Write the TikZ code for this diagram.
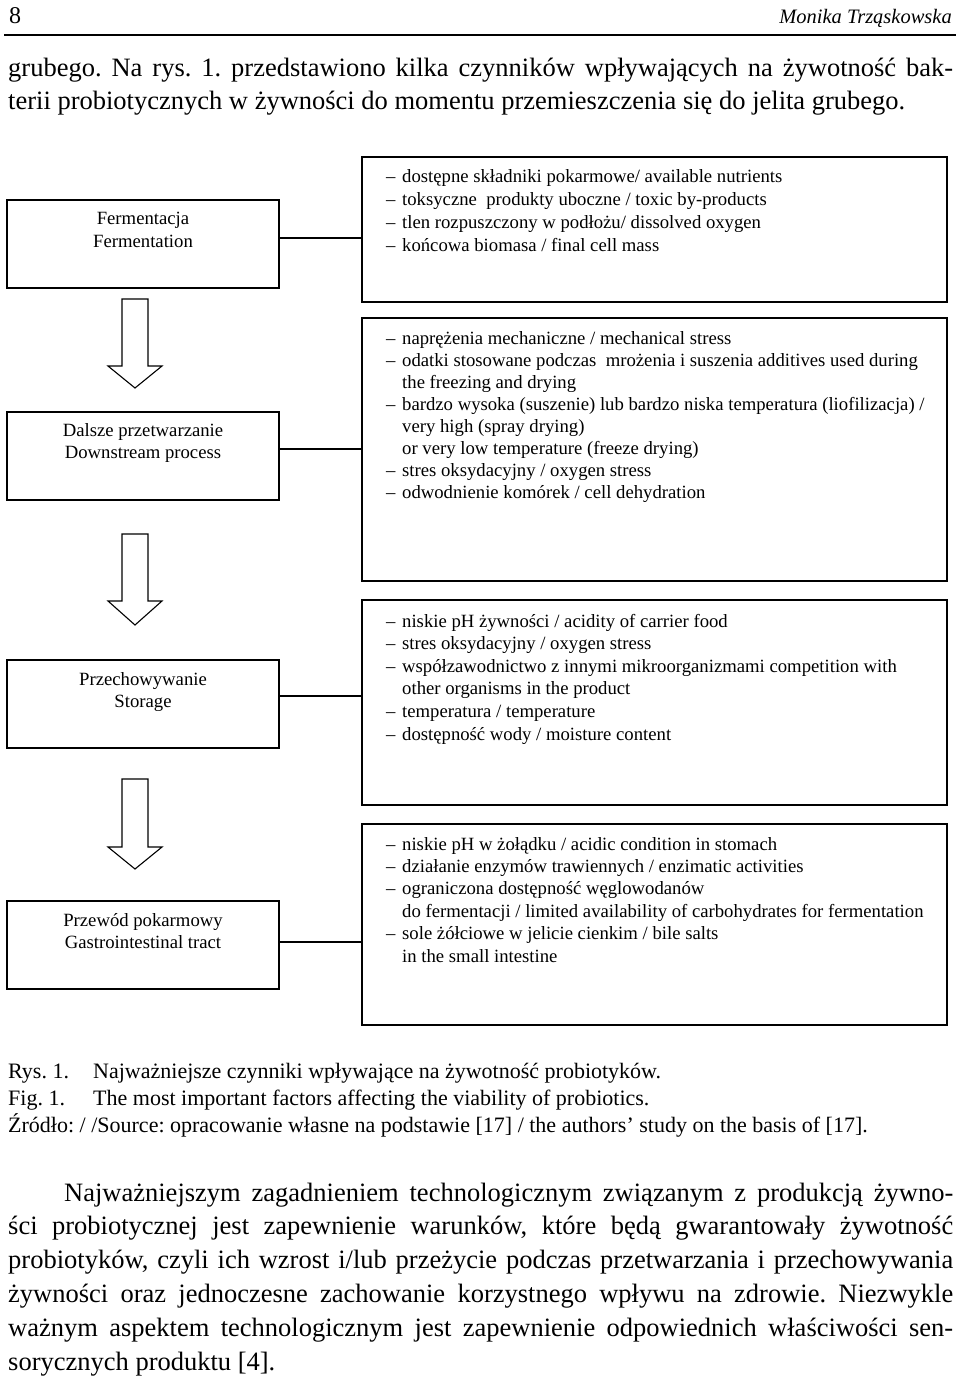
\documentclass[tikz,border=0pt]{standalone}
\usepackage{fontspec}
\setmainfont{Liberation Serif}
\frenchspacing
\newcommand\itm[1]{\makebox[16pt][l]{–}#1}
\newcommand\cnt[1]{\hspace*{16pt}#1}
\begin{document}
\begin{tikzpicture}[x=1pt,y=-1pt,
  lbox/.style={draw, line width=1.5pt, inner sep=0pt, outer sep=0pt, anchor=north west, minimum width=272pt, minimum height=88pt},
  rbox/.style={draw, line width=1.5pt, inner sep=0pt, outer sep=0pt, anchor=north west, minimum width=585pt},
  ltxt/.style={anchor=base, inner sep=0pt},
  rtxt/.style={anchor=base west, inner sep=0pt},
  link/.style={line width=1.5pt},
  barrow/.style={draw, line width=1.1pt, line join=miter},
  plain/.style={anchor=base west, inner sep=0pt}
]
\useasboundingbox (0,0) rectangle (960,1379);
\fill[white] (0,0) rectangle (960,1379);

% header
\node[plain, font=\fontsize{24}{28}\selectfont] (pg) at (9,23) {8};
\node[anchor=base east, inner sep=0pt, font=\fontsize{20.5}{25}\selectfont\itshape] (au) at (952,23) {Monika Trząskowska};
\draw[line width=2.6pt] (4,35) -- (956,35);

% top paragraph
\node[plain, font=\fontsize{26.5}{33}\selectfont] (p1) at (8,76) {\makebox[945pt][s]{grubego. Na rys. 1. przedstawiono kilka czynników wpływających na żywotność bak-}};
\node[plain, font=\fontsize{26.5}{33}\selectfont] (p2) at (8,109) {terii probiotycznych w żywności do momentu przemieszczenia się do jelita grubego.};

% left boxes
\node[lbox] (b1) at (7,200) {};
\node[lbox] (b2) at (7,412) {};
\node[lbox] (b3) at (7,660) {};
\node[lbox] (b4) at (7,901) {};

\node[ltxt] (l1) at (143,224) {\parbox[t]{260pt}{\centering\fontsize{18.7}{23}\selectfont Fermentacja\\Fermentation}};
\node[ltxt] (l2) at (143,436) {\parbox[t]{260pt}{\centering\fontsize{18.7}{22.5}\selectfont Dalsze przetwarzanie\\Downstream process}};
\node[ltxt] (l3) at (143,685) {\parbox[t]{260pt}{\centering\fontsize{18.7}{22.5}\selectfont Przechowywanie\\Storage}};
\node[ltxt] (l4) at (143,926) {\parbox[t]{260pt}{\centering\fontsize{18.7}{22.5}\selectfont Przewód pokarmowy\\Gastrointestinal tract}};

% right boxes
\node[rbox, minimum height=145pt] (r1) at (362,157) {};
\node[rbox, minimum height=263pt] (r2) at (362,318) {};
\node[rbox, minimum height=205pt] (r3) at (362,600) {};
\node[rbox, minimum height=201pt] (r4) at (362,824) {};

\node[rtxt] (t1) at (386,182) {\parbox[t]{600pt}{\fontsize{18.7}{23.3}\selectfont
\itm{dostępne składniki pokarmowe/ available nutrients}\\
\itm{toksyczne\ \ produkty uboczne / toxic by-products}\\
\itm{tlen rozpuszczony w podłożu/ dissolved oxygen}\\
\itm{końcowa biomasa / final cell mass}}};

\node[rtxt] (t2) at (386,344) {\parbox[t]{600pt}{\fontsize{18.7}{22.1}\selectfont
\itm{naprężenia mechaniczne / mechanical stress}\\
\itm{odatki stosowane podczas\ \ mrożenia i suszenia additives used during}\\
\cnt{the freezing and drying}\\
\itm{bardzo wysoka (suszenie) lub bardzo niska temperatura (liofilizacja) /}\\
\cnt{very high (spray drying)}\\
\cnt{or very low temperature (freeze drying)}\\
\itm{stres oksydacyjny / oxygen stress}\\
\itm{odwodnienie komórek / cell dehydration}}};

\node[rtxt] (t3) at (386,627) {\parbox[t]{600pt}{\fontsize{18.7}{22.6}\selectfont
\itm{niskie pH żywności / acidity of carrier food}\\
\itm{stres oksydacyjny / oxygen stress}\\
\itm{współzawodnictwo z innymi mikroorganizmami competition with}\\
\cnt{other organisms in the product}\\
\itm{temperatura / temperature}\\
\itm{dostępność wody / moisture content}}};

\node[rtxt] (t4) at (386,850) {\parbox[t]{600pt}{\fontsize{18.7}{22.4}\selectfont
\itm{niskie pH w żołądku / acidic condition in stomach}\\
\itm{działanie enzymów trawiennych / enzimatic activities}\\
\itm{ograniczona dostępność węglowodanów}\\
\cnt{do fermentacji / limited availability of carbohydrates for fermentation}\\
\itm{sole żółciowe w jelicie cienkim / bile salts}\\
\cnt{in the small intestine}}};

% connectors
\draw[link] (b1.east |- 0,238) -- (r1.west |- 0,238);
\draw[link] (b2.east |- 0,449) -- (r2.west |- 0,449);
\draw[link] (b3.east |- 0,696) -- (r3.west |- 0,696);
\draw[link] (b4.east |- 0,942) -- (r4.west |- 0,942);

% block arrows
\draw[barrow] (122,299) -- (148,299) -- (148,366) -- (162,366) -- (135,388) -- (108,366) -- (122,366) -- cycle;
\draw[barrow] (122,534) -- (148,534) -- (148,601) -- (162,601) -- (135,625) -- (108,601) -- (122,601) -- cycle;
\draw[barrow] (122,779) -- (148,779) -- (148,847) -- (162,847) -- (135,869) -- (108,847) -- (122,847) -- cycle;

% caption
\node[plain, font=\fontsize{22}{27}\selectfont] (c1a) at (8,1078) {Rys. 1.};
\node[plain, font=\fontsize{22}{27}\selectfont] (c1b) at (93,1078) {Najważniejsze czynniki wpływające na żywotność probiotyków.};
\node[plain, font=\fontsize{22}{27}\selectfont] (c2a) at (8,1105) {Fig. 1.};
\node[plain, font=\fontsize{22}{27}\selectfont] (c2b) at (93,1105) {The most important factors affecting the viability of probiotics.};
\node[plain, font=\fontsize{22}{27}\selectfont] (c3) at (8,1132) {Źródło: / /Source: opracowanie własne na podstawie [17] / the authors’ study on the basis of [17].};

% bottom paragraph
\node[plain, font=\fontsize{26.5}{33}\selectfont] (q1) at (64,1201) {\makebox[889pt][s]{Najważniejszym zagadnieniem technologicznym związanym z produkcją żywno-}};
\node[plain, font=\fontsize{26.5}{33}\selectfont] (q2) at (8,1234) {\makebox[945pt][s]{ści probiotycznej jest zapewnienie warunków, które będą gwarantowały żywotność}};
\node[plain, font=\fontsize{26.5}{33}\selectfont] (q3) at (8,1268) {\makebox[945pt][s]{probiotyków, czyli ich wzrost i/lub przeżycie podczas przetwarzania i przechowywania}};
\node[plain, font=\fontsize{26.5}{33}\selectfont] (q4) at (8,1302) {\makebox[945pt][s]{żywności oraz jednoczesne zachowanie korzystnego wpływu na zdrowie. Niezwykle}};
\node[plain, font=\fontsize{26.5}{33}\selectfont] (q5) at (8,1336) {\makebox[945pt][s]{ważnym aspektem technologicznym jest zapewnienie odpowiednich właściwości sen-}};
\node[plain, font=\fontsize{26.5}{33}\selectfont] (q6) at (8,1370) {sorycznych produktu [4].};
\end{tikzpicture}
\end{document}
